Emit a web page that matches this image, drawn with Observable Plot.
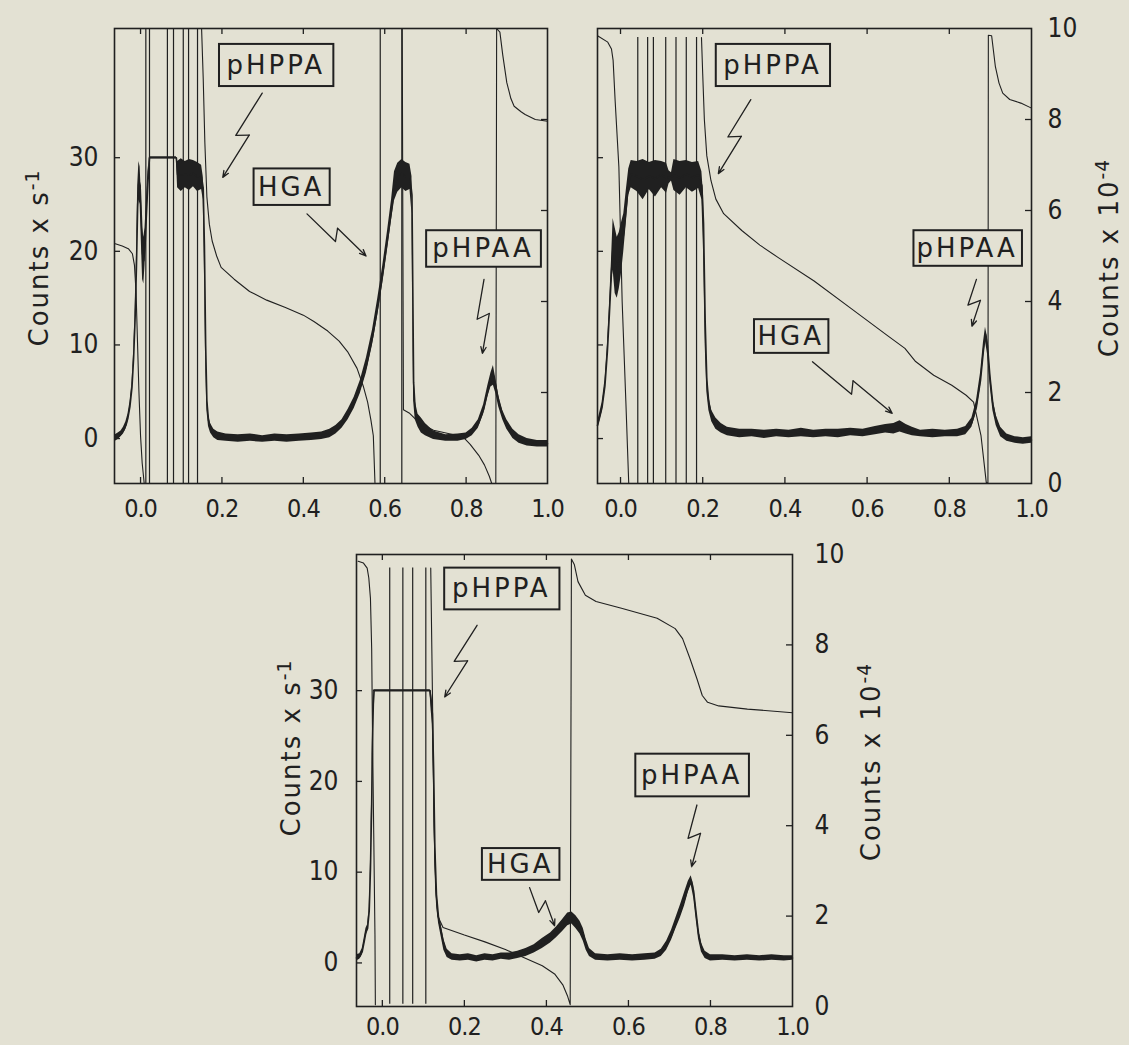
<!DOCTYPE html>
<html><head><meta charset="utf-8">
<script src="https://cdn.jsdelivr.net/npm/d3@7"></script>
<script src="https://cdn.jsdelivr.net/npm/@observablehq/plot@0.6"></script>
<style>
html,body{margin:0;padding:0;background:#e3e1d3;}
#wrap{position:relative;width:1129px;height:1045px;overflow:hidden;background:#e3e1d3;}
.pan{position:absolute;}
.pan svg{font-stretch:condensed;}
.ttl{position:absolute;white-space:nowrap;transform:translate(-50%,-50%) rotate(-90deg);font-family:"DejaVu Sans",sans-serif;font-size:26px;letter-spacing:2px;color:#202020;}
.ttl sup{font-size:0.72em;letter-spacing:1px;}
</style></head>
<body><div id="wrap"></div>
<script>
const paper = "#e3e1d3";
const ink = "#202020";
const fontTicks = '"DejaVu Sans Condensed", "DejaVu Sans", sans-serif';
const fontLabels = '"DejaVu Sans", sans-serif';

// shared tick values / labels
const xTicks = [0, 0.2, 0.4, 0.6, 0.8, 1.0];
const xTickLabels = ["0.0", "0.2", "0.4", "0.6", "0.8", "1.0"];
const leftTicks = [0, 10, 20, 30];
const rightTicks = [0, 2, 4, 6, 8, 10];
const rightTickLabels = ["0", "2", "4", "6", "8", "10"];
const peakNames = ["pHPPA", "HGA", "pHPAA"];

// ---------- panel 1 (top left) ----------
// counts trace: [x, low, high] envelope of the noisy pen trace (Counts x s^-1)
const p1Counts = [
 [-0.062,-0.3,0.4],[-0.055,-0.1,0.6],[-0.048,0.2,0.8],[-0.042,0.5,1.2],[-0.036,1.0,1.8],
 [-0.031,1.8,2.6],[-0.026,3.0,3.9],[-0.021,5.0,6.0],[-0.017,8.0,9.2],[-0.013,12.5,14],
 [-0.010,17.5,19.5],[-0.007,23,27],[-0.004,25.5,29.6],[-0.001,25,29],[0.002,21,26],
 [0.005,17,22.5],[0.008,16.5,21.5],[0.011,18.5,22.5],[0.014,22,25],[0.018,26,28.5],
 [0.022,29.9,30.1],[0.088,29.9,30.1],[0.091,26.8,29.6],[0.10,26.4,29.9],[0.11,26.8,29.6],
 [0.12,26.5,29.8],[0.13,26.9,29.7],[0.14,26.4,29.5],[0.15,26.6,29.2],[0.154,25.5,28],
 [0.157,18,23],[0.160,8,12],[0.163,3,5],[0.167,1.3,2.6],[0.172,0.6,1.6],[0.18,0.1,1.0],
 [0.19,-0.2,0.7],[0.21,-0.3,0.5],[0.24,-0.4,0.4],[0.27,-0.3,0.5],[0.30,-0.4,0.3],
 [0.33,-0.3,0.5],[0.36,-0.4,0.4],[0.39,-0.3,0.5],[0.42,-0.2,0.6],[0.445,-0.1,0.7],
 [0.465,0.1,1.0],[0.48,0.5,1.4],[0.495,1.1,2.0],[0.51,2.0,3.1],[0.525,3.2,4.4],
 [0.54,4.8,6.2],[0.555,7.0,8.6],[0.57,10,11.6],[0.583,13.2,15],[0.595,16.6,18.4],
 [0.607,20.3,22.2],[0.617,23.4,25.6],[0.624,25.4,28.5],[0.632,26.3,29.4],[0.642,26.8,29.8],
 [0.652,26.4,29.5],[0.662,26.6,29.3],[0.667,24,28],[0.669,12,20],[0.671,4,8],
 [0.675,2,4],[0.682,1.2,2.6],[0.69,0.6,2.2],[0.70,0.3,1.6],[0.72,-0.1,0.8],
 [0.75,-0.3,0.4],[0.78,-0.3,0.5],[0.80,-0.1,0.6],[0.815,0.3,1.1],[0.83,1.1,2.0],
 [0.843,2.6,3.6],[0.853,4.4,5.6],[0.861,5.5,7.0],[0.867,5.7,7.8],[0.873,4.8,6.4],
 [0.88,3.4,4.6],[0.89,2.0,3.0],[0.90,1.0,2.0],[0.915,0.0,1.0],[0.93,-0.5,0.4],
 [0.95,-0.8,0.0],[0.975,-0.9,-0.2],[1.0,-0.9,-0.2]
];
// integrator trace: [x, Counts x 10^-4]; null = pen lifted
const p1Integrator = [
 [-0.062,5.27],[-0.045,5.22],[-0.03,5.16],[-0.02,5.05],[-0.015,4.8],[-0.011,4.2],
 [-0.008,3.27],[-0.004,2.02],[0.0,1.05],[0.004,0.45],[0.009,0.0],
 null,
 [0.15,10],[0.154,8.9],[0.158,7.5],[0.163,6.3],[0.169,5.7],[0.176,5.33],[0.187,5.0],
 [0.198,4.75],[0.23,4.49],[0.268,4.22],[0.31,4.03],[0.356,3.87],[0.40,3.7],[0.426,3.56],
 [0.46,3.35],[0.488,3.13],[0.51,2.88],[0.532,2.53],[0.548,2.12],[0.558,1.79],
 [0.566,1.4],[0.572,1.05],[0.576,0.02],
 null,
 [0.643,10],[0.646,1.62],[0.66,1.55],[0.675,1.42],[0.69,1.3],[0.72,1.17],[0.77,1.07],
 [0.796,0.99],[0.81,0.86],[0.831,0.62],[0.845,0.41],[0.857,0.16],[0.863,0.0],
 [0.873,0.0],[0.875,10],[0.883,9.92],[0.89,9.42],[0.90,8.81],[0.91,8.46],[0.918,8.29],
 [0.935,8.17],[0.945,8.11],[0.97,8.0],[1.0,7.96]
];
// full-scale integrator sweeps (x positions)
const p1Sweeps = [0.013, 0.022, 0.066, 0.081, 0.105, 0.118, 0.14, 0.589, 0.642];
const p1Boxes = [
 {label: "pHPPA", x1: 0.194, x2: 0.475, y1: 37.6, y2: 42.1},
 {label: "HGA",   x1: 0.279, x2: 0.466, y1: 24.9, y2: 28.8},
 {label: "pHPAA", x1: 0.703, x2: 0.985, y1: 18.3, y2: 22.2}
];
const p1Arrows = [
 {x1: 0.299, y1: 36.9, x2: 0.202, y2: 27.9},
 {x1: 0.409, y1: 24.0, x2: 0.554, y2: 19.5},
 {x1: 0.844, y1: 17.0, x2: 0.840, y2: 9.1}
];

// ---------- panel 2 (top right) ----------
const p2Counts = [
 [-0.056,1.0,1.8],[-0.052,1.6,2.5],[-0.045,2.8,3.8],[-0.038,5,6.2],[-0.032,8.5,10],
 [-0.027,12.5,14.2],[-0.022,16.5,19],[-0.018,18,23.5],[-0.013,15.5,22.5],[-0.008,15,21.5],
 [-0.003,16,22],[0.002,17.5,23],[0.008,20,24],[0.014,23,26.5],[0.02,26,28.8],
 [0.026,26.8,29.7],[0.04,26.4,29.6],[0.055,25.5,29.8],[0.07,26.6,29.5],[0.085,25.8,29.7],
 [0.10,26.8,29.6],[0.112,26.2,29.4],[0.118,27.2,28.6],[0.124,27.5,28.4],[0.13,26.5,29.8],
 [0.145,26,29.6],[0.16,26.8,29.7],[0.175,26.3,29.5],[0.19,26.7,29.6],[0.198,25.5,28.5],
 [0.202,20,26],[0.206,10,15],[0.21,5,7.5],[0.215,3,4.5],[0.222,1.8,3.0],[0.232,1.0,2.2],
 [0.245,0.6,1.6],[0.26,0.3,1.2],[0.29,0.1,1.0],[0.32,0.2,1.0],[0.35,0.0,0.9],
 [0.38,0.2,1.0],[0.41,0.1,0.9],[0.44,0.2,1.1],[0.47,0.1,0.9],[0.50,0.2,1.0],
 [0.53,0.1,1.0],[0.56,0.3,1.1],[0.59,0.2,1.0],[0.62,0.4,1.3],[0.645,0.6,1.5],
 [0.665,0.5,1.6],[0.68,0.7,1.9],[0.695,0.5,1.5],[0.71,0.3,1.2],[0.73,0.2,0.9],
 [0.76,0.1,1.0],[0.79,0.2,0.9],[0.82,0.2,1.0],[0.84,0.4,1.3],[0.855,1.2,2.2],
 [0.866,2.8,4.0],[0.876,5.5,7.0],[0.883,8.6,10.2],[0.888,10.4,11.9],[0.893,9.0,10.8],
 [0.899,5.8,7.4],[0.906,3.0,4.3],[0.914,1.4,2.5],[0.925,0.2,1.2],[0.94,-0.3,0.5],
 [0.96,-0.5,0.2],[0.98,-0.6,0.1],[1.0,-0.5,0.2]
];
const p2Integrator = [
 [-0.056,9.84],[-0.031,9.7],[-0.022,9.55],[-0.018,9.3],[-0.013,8.4],[-0.004,6.96],
 [0.004,4.0],[0.013,1.8],[0.02,0.0],
 null,
 [0.197,9.8],[0.2,9.0],[0.204,8.0],[0.21,7.2],[0.22,6.66],[0.232,6.25],[0.251,5.93],
 [0.295,5.56],[0.339,5.24],[0.383,4.97],[0.471,4.45],[0.559,3.86],[0.648,3.26],
 [0.692,2.97],[0.718,2.68],[0.762,2.38],[0.806,2.16],[0.841,1.94],[0.859,1.79],
 [0.877,1.06],[0.89,0.02],[0.894,0.0],[0.895,9.85],[0.903,9.84],[0.912,9.17],
 [0.921,8.8],[0.93,8.58],[0.947,8.44],[0.974,8.36],[1.0,8.25]
];
const p2Sweeps = [0.042, 0.066, 0.08, 0.11, 0.135, 0.16, 0.185];
const p2Boxes = [
 {label: "pHPPA", x1: 0.233, x2: 0.511, y1: 37.6, y2: 42.1},
 {label: "pHPAA", x1: 0.714, x2: 0.978, y1: 18.4, y2: 22.2},
 {label: "HGA",   x1: 0.326, x2: 0.507, y1: 9.1,  y2: 12.7}
];
const p2Arrows = [
 {x1: 0.317, y1: 36.2, x2: 0.238, y2: 28.3},
 {x1: 0.866, y1: 17.0, x2: 0.855, y2: 12.0},
 {x1: 0.467, y1: 8.2,  x2: 0.661, y2: 2.7}
];

// ---------- panel 3 (bottom) ----------
const p3Counts = [
 [-0.063,0.2,0.9],[-0.055,0.4,1.0],[-0.049,0.9,1.6],[-0.044,2.0,2.8],[-0.04,3.0,3.8],
 [-0.036,3.4,4.2],[-0.032,5.2,6.2],[-0.029,9.5,11],[-0.026,16.5,18.5],[-0.024,23,25.5],
 [-0.022,27,30],[-0.02,29.9,30.1],[0.116,29.9,30.1],[0.119,27.8,30],[0.122,26.3,28.6],
 [0.125,19,24],[0.128,11,14.5],[0.132,6.5,8.5],[0.137,4.4,5.6],[0.143,3.0,4.2],
 [0.15,1.4,2.6],[0.158,0.6,1.5],[0.17,0.3,1.0],[0.19,0.2,0.9],[0.21,0.3,1.0],
 [0.23,0.1,0.8],[0.25,0.3,1.0],[0.27,0.2,0.9],[0.29,0.4,1.1],[0.31,0.3,1.1],
 [0.33,0.5,1.3],[0.35,0.7,1.6],[0.37,1.1,2.0],[0.39,1.6,2.7],[0.41,2.2,3.3],
 [0.425,2.8,4.0],[0.44,3.5,4.8],[0.452,4.1,5.5],[0.462,4.3,5.6],[0.472,3.8,5.2],
 [0.482,3.2,4.6],[0.49,2.4,3.8],[0.497,1.4,2.6],[0.505,0.7,1.6],[0.52,0.3,1.0],
 [0.55,0.2,0.9],[0.58,0.3,1.0],[0.61,0.2,0.9],[0.64,0.3,1.0],[0.665,0.4,1.1],
 [0.68,0.7,1.5],[0.693,1.4,2.4],[0.705,2.5,3.6],[0.716,3.8,5.0],[0.727,5.0,6.4],
 [0.737,6.3,7.8],[0.746,7.8,9.0],[0.753,8.6,9.6],[0.759,7.2,8.6],[0.765,4.8,6.2],
 [0.771,2.6,3.8],[0.778,1.2,2.2],[0.787,0.5,1.3],[0.80,0.2,0.9],[0.83,0.3,0.9],
 [0.86,0.2,0.8],[0.89,0.3,0.9],[0.92,0.2,0.8],[0.95,0.3,0.9],[0.98,0.2,0.8],[1.0,0.3,0.8]
];
const p3Integrator = [
 [-0.059,9.85],[-0.046,9.81],[-0.037,9.7],[-0.033,9.48],[-0.029,9.03],[-0.026,7.92],
 [-0.024,6.06],[-0.021,3.83],[-0.018,1.6],[-0.017,0.04],
 null,
 [0.118,9.7],[0.122,7.0],[0.126,4.0],[0.13,2.6],[0.135,2.0],[0.148,1.75],[0.20,1.58],
 [0.25,1.43],[0.30,1.26],[0.35,1.06],[0.39,0.9],[0.42,0.72],[0.44,0.48],[0.452,0.22],
 [0.458,0.04],[0.461,9.9],[0.468,9.78],[0.477,9.4],[0.495,9.1],[0.521,8.96],[0.583,8.81],
 [0.67,8.59],[0.714,8.36],[0.732,8.14],[0.75,7.7],[0.767,7.25],[0.78,6.88],[0.793,6.73],
 [0.82,6.65],[0.89,6.58],[1.0,6.5]
];
const p3Sweeps = [0.018, 0.05, 0.074, 0.106];
const p3Boxes = [
 {label: "pHPPA", x1: 0.152, x2: 0.433, y1: 38.9, y2: 43.5},
 {label: "HGA",   x1: 0.244, x2: 0.433, y1: 9.1,  y2: 12.6},
 {label: "pHPAA", x1: 0.618, x2: 0.895, y1: 18.3, y2: 23.0}
];
const p3Arrows = [
 {x1: 0.231, y1: 37.2, x2: 0.152, y2: 29.3},
 {x1: 0.359, y1: 8.3,  x2: 0.42,  y2: 4.1},
 {x1: 0.767, y1: 17.4, x2: 0.754, y2: 10.6}
];

const panels = [
 {left: 0, top: 0, width: 575, height: 535, margin: {top: 28, right: 28, bottom: 52, left: 114},
  xDomain: [-0.064, 1], yDomain: [-4.8, 43.8], leftLabels: true, rightLabels: false,
  counts: p1Counts, integ: p1Integrator, sweeps: p1Sweeps, sweepRange: [0, 10],
  boxes: p1Boxes, arrows: p1Arrows, xPad: 16, lPad: 16, rPad: 16},
 {left: 560, top: 0, width: 569, height: 535, margin: {top: 28, right: 98, bottom: 52, left: 37},
  xDomain: [-0.056, 1], yDomain: [-4.8, 43.8], leftLabels: false, rightLabels: true,
  counts: p2Counts, integ: p2Integrator, sweeps: p2Sweeps, sweepRange: [0, 9.8],
  boxes: p2Boxes, arrows: p2Arrows, xPad: 16, lPad: 16, rPad: 16},
 {left: 240, top: 520, width: 700, height: 525, margin: {top: 34, right: 148, bottom: 39, left: 116},
  xDomain: [-0.063, 1], yDomain: [-4.8, 45], leftLabels: true, rightLabels: true,
  counts: p3Counts, integ: p3Integrator, sweeps: p3Sweeps, sweepRange: [0.05, 9.7],
  boxes: p3Boxes, arrows: p3Arrows, xPad: 11, lPad: 18, rPad: 22}
];

const titles = [
 {html: 'Counts x s<sup>-1</sup>', cx: 38, cy: 258},
 {html: 'Counts x 10<sup>-4</sup>', cx: 1108, cy: 258},
 {html: 'Counts x s<sup>-1</sup>', cx: 290, cy: 748},
 {html: 'Counts x 10<sup>-4</sup>', cx: 870, cy: 762}
];

function makePanel(p) {
  const iw = p.width - p.margin.left - p.margin.right;
  const ih = p.height - p.margin.top - p.margin.bottom;
  const [xa, xb] = p.xDomain, [ya, yb] = p.yDomain;
  const kx = iw / (xb - xa), ky = ih / (yb - ya);
  const toY = r => ya + r / 10 * (yb - ya);
  const px = (x, y) => [(x - xa) * kx, (yb - y) * ky];
  const dt = (X, Y) => [xa + X / kx, yb - Y / ky];
  const rightY = rightTicks.map(toY);
  const integ = p.integ.map(d => d ? {x: d[0], y: toY(d[1])} : {x: NaN, y: NaN});
  const boltLines = [], boltHeads = [];
  p.arrows.forEach((a, i) => {
    const [ax, ay] = px(a.x1, a.y1), [bx, by] = px(a.x2, a.y2);
    const dx = bx - ax, dy = by - ay, L = Math.hypot(dx, dy);
    const ux = dx / L, uy = dy / L, nx = -uy, ny = ux;
    const mx = ax + dx * 0.5, my = ay + dy * 0.5;
    const m1 = dt(mx + ux * 3 + nx * 6, my + uy * 3 + ny * 6);
    const m2 = dt(mx - ux * 3 - nx * 6, my - uy * 3 - ny * 6);
    boltLines.push({k: i, x: a.x1, y: a.y1}, {k: i, x: m1[0], y: m1[1]}, {k: i, x: m2[0], y: m2[1]});
    boltHeads.push({x1: m2[0], y1: m2[1], x2: a.x2, y2: a.y2});
  });
  const innerX = xTicks.filter(t => t < xb - 1e-9);
  const marks = [
    Plot.ruleX(p.sweeps, {x: d => d, y1: toY(p.sweepRange[0]), y2: toY(p.sweepRange[1]), stroke: ink, strokeWidth: 1.2}),
    Plot.line(integ, {x: "x", y: "y", stroke: ink, strokeWidth: 1.1}),
    Plot.areaY(p.counts, {x: d => d[0], y1: d => d[1], y2: d => d[2], fill: ink}),
    Plot.line(p.counts, {x: d => d[0], y: d => (d[1] + d[2]) / 2, stroke: ink, strokeWidth: 1.6}),
    Plot.rect(p.boxes, {x1: "x1", x2: "x2", y1: "y1", y2: "y2", fill: paper, stroke: ink, strokeWidth: 2}),
    Plot.text(p.boxes, {x: d => (d.x1 + d.x2) / 2, y: d => (d.y1 + d.y2) / 2, text: "label", dx: -1,
      fontSize: 26, fontFamily: fontLabels, fill: ink}),
    Plot.line(boltLines, {x: "x", y: "y", z: "k", stroke: ink, strokeWidth: 1.3}),
    Plot.arrow(boltHeads, {x1: "x1", y1: "y1", x2: "x2", y2: "y2", stroke: ink, strokeWidth: 1.3, headLength: 8, headAngle: 45}),
    Plot.tickX(innerX, {x: d => d, insetTop: ih - 6, stroke: ink, strokeWidth: 1.3}),
    Plot.tickX(innerX, {x: d => d, insetBottom: ih - 6, stroke: ink, strokeWidth: 1.3}),
    Plot.tickY(leftTicks, {y: d => d, insetRight: iw - 6, stroke: ink, strokeWidth: 1.3}),
    Plot.tickY(rightY.slice(1, -1), {y: d => d, insetLeft: iw - 6, stroke: ink, strokeWidth: 1.3}),
    Plot.frame({stroke: ink, strokeWidth: 1.6}),
    Plot.axisX(xTicks, {anchor: "bottom", tickSize: 0, tickPadding: p.xPad, fontSize: 25,
      tickFormat: d => xTickLabels[xTicks.indexOf(d)]})
  ];
  if (p.leftLabels) marks.push(Plot.axisY(leftTicks, {anchor: "left", tickSize: 0, tickPadding: p.lPad, fontSize: 26,
      tickFormat: d => String(d)}));
  if (p.rightLabels) marks.push(Plot.axisY(rightY, {anchor: "right", tickSize: 0, tickPadding: p.rPad, fontSize: 26,
      tickFormat: v => rightTickLabels[rightY.indexOf(v)]}));
  const svg = Plot.plot({
    width: p.width, height: p.height,
    marginTop: p.margin.top, marginRight: p.margin.right, marginBottom: p.margin.bottom, marginLeft: p.margin.left,
    x: {domain: p.xDomain}, y: {domain: p.yDomain},
    style: {background: "transparent", overflow: "visible", color: ink, fontFamily: fontTicks, fontSize: "26px"},
    marks
  });
  // typographic touches: spaced lettering in the boxed peak names, tight x tick labels
  svg.querySelectorAll("text").forEach(t => {
    const s = t.textContent;
    if (peakNames.includes(s)) { t.style.letterSpacing = "3px"; t.style.fontStretch = "normal"; }
    else if (xTickLabels.includes(s)) { t.style.letterSpacing = "-1px"; }
  });
  const div = document.createElement("div");
  div.className = "pan";
  div.style.left = p.left + "px";
  div.style.top = p.top + "px";
  div.style.width = p.width + "px";
  div.appendChild(svg);
  return div;
}

const wrap = document.getElementById("wrap");
panels.forEach(p => wrap.appendChild(makePanel(p)));
titles.forEach(t => {
  const d = document.createElement("div");
  d.className = "ttl";
  d.style.left = t.cx + "px";
  d.style.top = t.cy + "px";
  d.innerHTML = t.html;
  wrap.appendChild(d);
});
</script></body></html>
